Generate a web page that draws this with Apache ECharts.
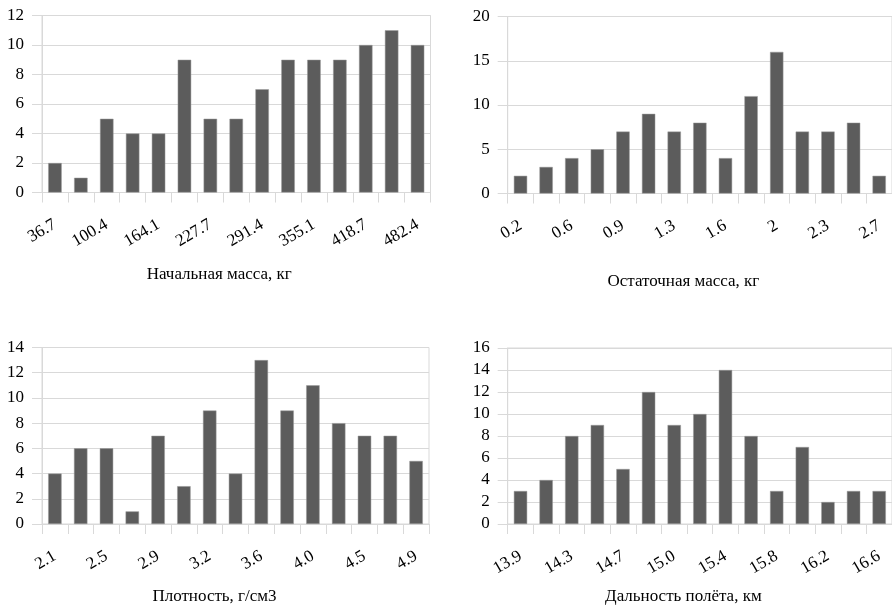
<!DOCTYPE html>
<html>
<head>
<meta charset="utf-8">
<script src="https://cdn.jsdelivr.net/npm/echarts@6/dist/echarts.min.js"></script>
<style>
html,body{margin:0;padding:0;background:#fff;}
#chart{width:892px;height:606px;}
</style>
</head>
<body>
<div id="chart"></div>
<script>
// Data
const massCats = ['36.7','68.5','100.4','132.2','164.1','195.9','227.7','259.6','291.4','323.2','355.1','386.9','418.7','450.6','482.4'];
const massVals = [2,1,5,4,4,9,5,5,7,9,9,9,10,11,10];

const restCats = ['0.2','0.4','0.6','0.7','0.9','1.1','1.3','1.4','1.6','1.8','2','2.2','2.3','2.5','2.7'];
const restVals = [2,3,4,5,7,9,7,8,4,11,16,7,7,8,2];

const densCats = ['2.1','2.3','2.5','2.7','2.9','3.0','3.2','3.4','3.6','3.8','4.0','4.2','4.5','4.7','4.9'];
const densVals = [4,6,6,1,7,3,9,4,13,9,11,8,7,7,5];

const rangeCats = ['13.9','14.1','14.3','14.5','14.7','14.8','15.0','15.2','15.4','15.6','15.8','16.0','16.2','16.4','16.6'];
const rangeVals = [3,4,8,9,5,12,9,10,14,8,3,7,2,3,3];

const names = ['Начальная масса, кг','Остаточная масса, кг','Плотность, г/см3','Дальность полёта, км'];
const yMax = [12,20,14,16];
const yStep = [2,5,2,2];

const FONT = 'Liberation Serif';
const FS = 17;
const GRID_C = '#d9d9d9';

const grids = [
  {left:42, top:15.5, width:388.5, height:177},
  {left:507.7, top:16.5, width:388, height:177},
  {left:42, top:347.5, width:387, height:177.5},
  {left:507.7, top:348, width:388, height:178}
];
const nameGaps = [74, 80, 64, 64];
const nameShift = [34, 33, 42, 33];
const cats = [massCats, restCats, densCats, rangeCats];
const vals = [massVals, restVals, densVals, rangeVals];

const option = {
  animation:false,
  backgroundColor:'#fff',
  grid: grids.map(g => Object.assign({show:true, borderColor:GRID_C, borderWidth:1, containLabel:false}, g)),
  xAxis: cats.map((c,i) => ({
    type:'category', gridIndex:i, data:c,
    name:names[i], nameLocation:'middle', nameGap:nameGaps[i],
    nameTextStyle:{fontFamily:FONT, fontSize:FS, color:'#000', padding:[0, nameShift[i], 0, 0]},
    axisLine:{show:true, lineStyle:{color:GRID_C, width:1}},
    axisTick:{show:true, interval:0, length:10, lineStyle:{color:GRID_C}},
    axisLabel:{interval:1, rotate:30, margin:31, fontFamily:FONT, fontSize:FS, color:'#000'},
    splitLine:{show:false}
  })),
  yAxis: yMax.map((m,i) => ({
    type:'value', gridIndex:i, min:0, max:m, interval:yStep[i],
    axisLine:{show:true, lineStyle:{color:GRID_C, width:1}},
    axisTick:{show:true, length:10, lineStyle:{color:GRID_C}},
    axisLabel:{margin:18, fontFamily:FONT, fontSize:FS, color:'#000'},
    splitLine:{show:true, lineStyle:{color:GRID_C, width:1}}
  })),
  series: vals.map((v,i) => ({
    type:'bar', xAxisIndex:i, yAxisIndex:i, data:v,
    barWidth:'52%',
    itemStyle:{color:'#5c5c5c', borderColor:'#9a9a9a', borderWidth:0.5}
  }))
};

const chart = echarts.init(document.getElementById('chart'), null, {renderer:'canvas'});
chart.setOption(option);
</script>
</body>
</html>
